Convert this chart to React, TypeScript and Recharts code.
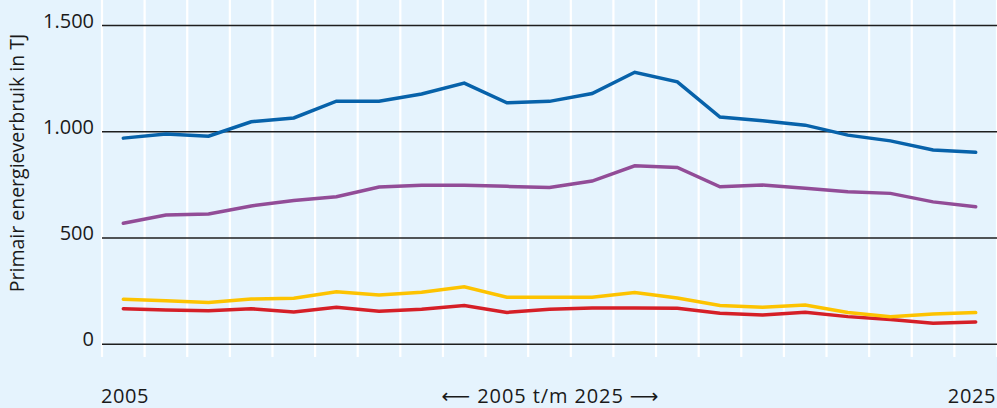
import { CartesianGrid, Label, Line, LineChart, XAxis, YAxis } from "recharts";

const years = [
  2005, 2006, 2007, 2008, 2009, 2010, 2011, 2012, 2013, 2014, 2015,
  2016, 2017, 2018, 2019, 2020, 2021, 2022, 2023, 2024, 2025,
];
const blauw = [
  970, 989, 979, 1047, 1065, 1144, 1144, 1178, 1229, 1136, 1143,
  1180, 1280, 1235, 1069, 1052, 1031, 984, 957, 914, 903,
];
const paars = [
  569, 608, 613, 651, 676, 694, 740, 748, 748, 743, 738,
  768, 840, 832, 741, 749, 734, 718, 710, 670, 647,
];
const geel = [
  212, 205, 196, 213, 216, 247, 232, 245, 270, 221, 221,
  221, 243, 218, 182, 174, 185, 149, 130, 142, 149,
];
const rood = [
  167, 161, 158, 167, 152, 174, 155, 165, 182, 150, 165,
  171, 171, 169, 146, 138, 150, 130, 117, 99, 105,
];
const yTicks = [0, 500, 1000, 1500];

const data = years.map((year, i) => ({
  year,
  blauw: blauw[i],
  paars: paars[i],
  geel: geel[i],
  rood: rood[i],
}));

// band edges between the years, for the white vertical lines
const bandEdges = [...years.map((y) => y - 0.5), years[years.length - 1] + 0.5];
const xDomain = [years[0] - 0.5, years[years.length - 1] + 0.5];
const yDomain = [-60, 1620];

const font = "'Open Sans', 'DejaVu Sans', sans-serif";
const textColor = "#1a1a1a";

function formatNl(v: number) {
  if (v < 1000) return String(v);
  return `${Math.floor(v / 1000)}.${String(v % 1000).padStart(3, "0")}`;
}

function gridX({ xAxis, offset }: any) {
  if (xAxis && typeof xAxis.scale === "function") return bandEdges.map((v) => xAxis.scale(v));
  return bandEdges.map((v) => offset.left + ((v - xDomain[0]) / (xDomain[1] - xDomain[0])) * offset.width);
}

function gridY({ yAxis, offset }: any) {
  if (yAxis && typeof yAxis.scale === "function") return yTicks.map((v) => yAxis.scale(v));
  return yTicks.map((v) => offset.top + offset.height - ((v - yDomain[0]) / (yDomain[1] - yDomain[0])) * offset.height);
}

function YTick(props: any) {
  const { x, y, payload } = props;
  return (
    <text x={x - 8} y={y + 2} textAnchor="end" fontSize={20} fontFamily={font} fill={textColor}>
      {formatNl(payload.value)}
    </text>
  );
}

const lineProps = {
  type: "linear" as const,
  strokeWidth: 3.5,
  dot: false,
  strokeLinecap: "round" as const,
  isAnimationActive: false,
};

export default function App() {
  return (
    <div
      style={{
        position: "absolute",
        left: 0,
        top: 0,
        width: 997,
        height: 408,
        background: "#e5f3fd",
      }}
    >
      <LineChart width={997} height={408} data={data} margin={{ top: 0, right: 0, bottom: 0, left: 0 }}>
        <CartesianGrid horizontal={false} stroke="#ffffff" strokeWidth={2.2} verticalCoordinatesGenerator={gridX} />
        <CartesianGrid vertical={false} stroke="#1e1e1e" strokeWidth={1.3} horizontalCoordinatesGenerator={gridY} />
        <XAxis
          dataKey="year"
          type="number"
          domain={xDomain}
          ticks={bandEdges}
          interval={0}
          height={51}
          tick={false}
          tickLine={false}
          axisLine={false}
        >
          <Label
            content={(p: any) => (
              <text
                x={p.viewBox.x - 1}
                y={403}
                textAnchor="start"
                fontSize={20}
                letterSpacing={0.6}
                fontFamily={font}
                fill={textColor}
              >
                {years[0]}
              </text>
            )}
          />
          <Label
            content={(p: any) => (
              <text
                x={p.viewBox.x + p.viewBox.width / 2 + 1}
                y={403}
                textAnchor="middle"
                fontSize={20}
                letterSpacing={0.9}
                fontFamily={font}
                fill={textColor}
              >
                {`⟵ ${years[0]} t/m ${years[years.length - 1]} ⟶`}
              </text>
            )}
          />
          <Label
            content={(p: any) => (
              <text
                x={p.viewBox.x + p.viewBox.width - 1}
                y={403}
                textAnchor="end"
                fontSize={20}
                letterSpacing={0.6}
                fontFamily={font}
                fill={textColor}
              >
                {years[years.length - 1]}
              </text>
            )}
          />
        </XAxis>
        <YAxis
          type="number"
          domain={yDomain}
          ticks={yTicks}
          interval={0}
          width={102}
          tickSize={0}
          tickMargin={0}
          tickLine={false}
          axisLine={false}
          tick={<YTick />}
        >
          <Label
            content={() => (
              <text
                x={24}
                y={163}
                transform="rotate(-90, 24, 163)"
                textAnchor="middle"
                fontSize={19.5}
                fontFamily={font}
                fill={textColor}
              >
                Primair energieverbruik in TJ
              </text>
            )}
          />
        </YAxis>
        <Line dataKey="rood" stroke="#d51f27" {...lineProps} />
        <Line dataKey="geel" stroke="#fdc300" {...lineProps} />
        <Line dataKey="paars" stroke="#924c97" {...lineProps} />
        <Line dataKey="blauw" stroke="#0762aa" {...lineProps} />
      </LineChart>
    </div>
  );
}
